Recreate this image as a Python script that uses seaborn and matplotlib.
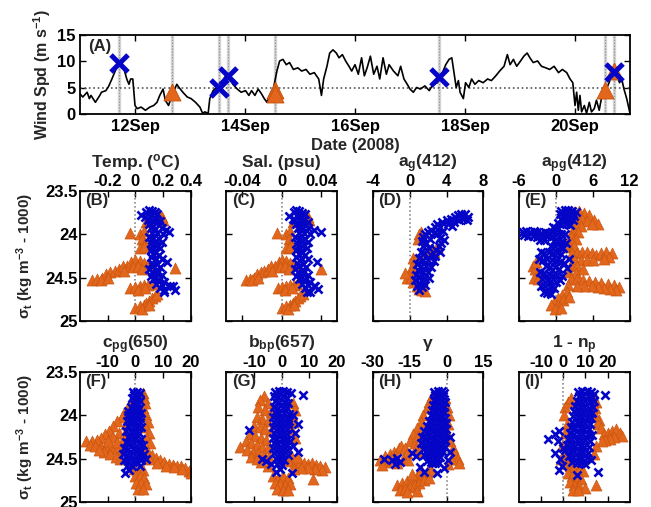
import matplotlib
matplotlib.use("Agg")
import matplotlib.pyplot as plt
import seaborn as sns

# ---------------------------------------------------------------- wind record
wind_day = [11.00, 11.05, 11.13, 11.17, 11.20, 11.28, 11.36, 11.39, 11.47, 11.52,
            11.58, 11.64, 11.70, 11.75, 11.81, 11.85, 11.89, 11.92, 11.96, 12.00,
            12.04, 12.11, 12.19, 12.27, 12.34, 12.40, 12.45, 12.51, 12.55, 12.61,
            12.66, 12.71, 12.76, 12.80, 12.87, 12.95, 13.02, 13.10, 13.18, 13.23,
            13.27, 13.33, 13.36, 13.42, 13.48, 13.53, 13.59, 13.67, 13.72, 13.78,
            13.86, 13.93, 14.01, 14.07, 14.12, 14.18, 14.24, 14.30, 14.35, 14.40,
            14.46, 14.52, 14.58, 14.63, 14.69, 14.75, 14.81, 14.88, 14.96, 15.03,
            15.11, 15.18, 15.26, 15.34, 15.39, 15.43, 15.49, 15.54, 15.60, 15.66,
            15.71, 15.77, 15.83, 15.89, 15.94, 16.00, 16.06, 16.12, 16.17, 16.22,
            16.28, 16.34, 16.40, 16.45, 16.51, 16.57, 16.62, 16.70, 16.78, 16.83,
            16.89, 16.95, 17.00, 17.06, 17.12, 17.19, 17.27, 17.35, 17.42, 17.50,
            17.53, 17.59, 17.65, 17.71, 17.76, 17.80, 17.84, 17.88, 17.91, 17.97,
            18.01, 18.07, 18.12, 18.18, 18.25, 18.33, 18.41, 18.48, 18.56, 18.63,
            18.71, 18.77, 18.82, 18.88, 18.94, 19.01, 19.07, 19.13, 19.18, 19.24,
            19.32, 19.39, 19.47, 19.54, 19.62, 19.70, 19.77, 19.85, 19.91, 19.96,
            20.00, 20.03, 20.06, 20.09, 20.12, 20.17, 20.21, 20.26, 20.30, 20.35,
            20.39, 20.44, 20.48, 20.53, 20.57, 20.62, 20.67, 20.72, 20.76, 20.81,
            20.85, 20.89, 20.94, 20.98, 21.00]
wind_speed = [3.9, 3.3, 4.2, 3.0, 3.6, 2.3, 3.6, 4.2, 4.5, 5.3,
              6.7, 8.2, 9.8, 9.1, 8.2, 6.7, 5.7, 6.7, 6.7, 1.7,
              1.1, 1.4, 0.8, 1.4, 1.7, 2.3, 3.6, 4.8, 2.7, 1.7,
              3.3, 4.5, 5.7, 5.1, 4.2, 3.3, 3.0, 2.3, 1.4, 0.2,
              0.5, 0.2, 3.0, 4.5, 5.1, 4.8, 6.4, 7.6, 6.7, 5.7,
              4.8, 4.2, 4.5, 3.6, 4.5, 3.6, 4.8, 3.9, 3.0, 2.3,
              3.9, 5.1, 8.2, 10.1, 10.4, 9.4, 9.8, 8.5, 8.8, 8.2,
              8.5, 7.6, 7.9, 6.7, 3.6, 6.7, 9.1, 11.6, 12.2, 11.6,
              10.7, 11.3, 10.1, 9.1, 8.2, 9.4, 7.6, 10.7, 7.3, 8.8,
              11.0, 7.6, 9.1, 6.7, 10.7, 7.6, 9.4, 8.2, 7.3, 9.1,
              6.7, 5.7, 4.8, 4.2, 5.1, 4.8, 5.4, 4.5, 5.7, 6.0,
              7.0, 7.9, 9.4, 10.4, 10.7, 7.9, 5.1, 6.4, 4.2, 3.0,
              6.0, 5.1, 6.7, 5.7, 6.4, 6.0, 6.7, 6.4, 7.3, 8.2,
              9.1, 11.3, 9.4, 10.4, 9.1, 10.1, 11.0, 11.6, 10.7, 9.8,
              10.1, 9.1, 8.8, 8.5, 9.1, 7.9, 8.5, 7.9, 6.7, 6.0,
              1.7, 4.2, 0.8, 3.6, 0.5, 1.7, 0.2, 2.3, 0.5, 1.1,
              2.7, 0.8, 3.0, 4.2, 4.8, 6.0, 7.6, 8.5, 7.3, 6.0,
              6.7, 4.8, 3.0, 1.1, 0.2]

event_days = [11.70, 12.68, 13.53, 13.69, 14.54, 17.52, 20.55, 20.70]
high_wind_day = [11.70, 13.53, 13.69, 17.52, 20.70]
high_wind_spd = [9.7, 5.0, 7.2, 7.0, 8.0]
low_wind_day = [12.68, 14.54, 14.54, 20.55, 20.70]
low_wind_spd = [4.3, 4.6, 3.9, 4.7, 8.2]

date_ticks = [12, 14, 16, 18, 20]
date_labels = ["12Sep", "14Sep", "16Sep", "18Sep", "20Sep"]

# ------------------------------------------------ profile anomalies vs sigma_t
# each entry: (anomaly, sigma_t); "low" = calm-wind profiles, "high" = windy ones
temp_high = [(0.04, 23.78), (0.08, 23.74), (0.10, 23.72), (0.12, 23.73), (0.14, 23.74), (0.16, 23.76),
             (0.11, 23.78), (0.07, 23.80), (0.09, 23.83), (0.12, 23.84), (0.15, 23.82), (0.18, 23.85),
             (0.10, 23.88), (0.13, 23.90), (0.17, 23.89), (0.11, 23.93), (0.14, 23.94), (0.19, 23.93),
             (0.22, 23.95), (0.24, 23.97), (0.12, 23.98), (0.16, 23.99), (0.20, 24.00), (0.10, 24.03),
             (0.13, 24.04), (0.17, 24.05), (0.15, 24.08), (0.11, 24.10), (0.19, 24.09), (0.12, 24.13),
             (0.15, 24.14), (0.18, 24.16), (0.11, 24.18), (0.14, 24.20), (0.13, 24.23), (0.17, 24.24),
             (0.11, 24.26), (0.15, 24.28), (0.19, 24.29), (0.23, 24.32), (0.12, 24.33), (0.16, 24.34),
             (0.13, 24.37), (0.18, 24.38), (0.10, 24.40), (0.15, 24.41), (0.12, 24.44), (0.16, 24.45),
             (0.19, 24.47), (0.11, 24.48), (0.14, 24.50), (0.13, 24.52), (0.17, 24.53), (0.21, 24.55),
             (0.15, 24.57), (0.19, 24.58), (0.25, 24.60), (0.21, 24.64), (0.29, 24.64), (0.27, 24.60),
             (0.18, 24.62), (0.21, 24.67)]
temp_low = [(0.17, 23.76), (0.19, 23.80), (0.20, 23.84), (0.08, 23.86), (-0.04, 23.99), (0.03, 24.00),
            (0.06, 23.96), (0.05, 24.05), (0.07, 24.10), (0.03, 24.16), (0.06, 24.15),
            (-0.31, 24.53), (-0.28, 24.51), (-0.24, 24.50), (-0.21, 24.46), (-0.18, 24.43), (-0.15, 24.42),
            (-0.12, 24.40), (-0.09, 24.37), (-0.06, 24.36), (-0.03, 24.32), (0.00, 24.30), (0.03, 24.31),
            (0.06, 24.33), (0.09, 24.34), (-0.08, 24.42), (-0.02, 24.38), (0.02, 24.36), (0.05, 24.40),
            (-0.25, 24.53), (-0.20, 24.50), (0.29, 24.39),
            (-0.04, 24.62), (0.00, 24.61), (0.03, 24.60), (0.06, 24.59), (0.09, 24.58), (0.12, 24.57),
            (0.02, 24.64), (0.07, 24.62), (0.00, 24.85), (0.03, 24.83), (0.06, 24.81), (0.08, 24.79),
            (0.10, 24.77), (0.12, 24.74), (0.14, 24.71), (0.16, 24.69), (0.05, 24.86), (0.10, 24.82)]

sal_high = [(0.007, 23.79), (0.012, 23.74), (0.015, 23.72), (0.018, 23.73), (0.021, 23.75), (0.024, 23.77),
            (0.016, 23.79), (0.011, 23.82), (0.014, 23.84), (0.019, 23.85), (0.023, 23.83), (0.027, 23.86),
            (0.015, 23.88), (0.020, 23.90), (0.025, 23.89), (0.017, 23.93), (0.021, 23.94), (0.027, 23.93),
            (0.033, 23.95), (0.040, 23.97), (0.018, 23.98), (0.023, 23.99), (0.029, 24.00), (0.014, 24.03),
            (0.019, 24.04), (0.024, 24.05), (0.021, 24.08), (0.016, 24.10), (0.027, 24.09), (0.017, 24.13),
            (0.021, 24.14), (0.026, 24.16), (0.015, 24.18), (0.020, 24.20), (0.018, 24.23), (0.024, 24.24),
            (0.015, 24.26), (0.021, 24.28), (0.027, 24.29), (0.036, 24.32), (0.016, 24.33), (0.022, 24.34),
            (0.018, 24.37), (0.025, 24.38), (0.014, 24.40), (0.021, 24.41), (0.017, 24.44), (0.022, 24.45),
            (0.027, 24.47), (0.015, 24.48), (0.020, 24.50), (0.018, 24.52), (0.024, 24.53), (0.029, 24.55),
            (0.021, 24.57), (0.027, 24.58), (0.033, 24.60), (0.026, 24.66), (0.037, 24.63), (0.034, 24.60),
            (0.024, 24.62), (0.029, 24.67)]
sal_low = [(0.024, 23.76), (0.027, 23.80), (0.028, 23.84), (0.011, 23.86), (-0.005, 23.99), (0.004, 24.00),
           (0.008, 23.96), (0.007, 24.05), (0.009, 24.10), (0.004, 24.16), (0.008, 24.15),
           (-0.036, 24.53), (-0.032, 24.51), (-0.028, 24.50), (-0.025, 24.46), (-0.021, 24.43), (-0.018, 24.42),
           (-0.014, 24.40), (-0.011, 24.37), (-0.007, 24.36), (-0.003, 24.32), (0.000, 24.30), (0.004, 24.31),
           (0.008, 24.33), (0.012, 24.34), (-0.010, 24.42), (-0.002, 24.38), (0.003, 24.36), (0.007, 24.40),
           (-0.030, 24.53), (-0.024, 24.50), (0.040, 24.40),
           (-0.004, 24.62), (0.000, 24.61), (0.004, 24.60), (0.008, 24.59), (0.012, 24.58), (0.016, 24.57),
           (0.003, 24.64), (0.010, 24.62), (0.000, 24.85), (0.004, 24.83), (0.008, 24.81), (0.011, 24.79),
           (0.014, 24.77), (0.017, 24.74), (0.019, 24.71), (0.022, 24.69), (0.006, 24.86), (0.013, 24.82)]

ag_high = [(5.2, 23.78), (5.6, 23.76), (6.0, 23.77), (6.3, 23.80), (5.8, 23.82), (6.2, 23.84), (5.4, 23.83),
           (4.9, 23.80), (4.5, 23.82), (4.0, 23.84), (3.5, 23.86), (4.2, 23.88), (4.8, 23.86), (3.0, 23.88),
           (3.3, 23.92), (2.7, 23.92), (4.6, 23.90), (2.3, 23.95), (2.0, 23.97), (1.7, 24.00), (2.6, 23.98),
           (3.0, 24.00), (3.6, 23.96), (1.4, 24.03), (2.2, 24.05), (3.3, 24.04), (3.7, 24.07), (1.3, 24.08),
           (1.8, 24.10), (3.4, 24.10), (3.2, 24.14), (1.5, 24.14), (2.1, 24.16), (2.9, 24.18), (3.3, 24.20),
           (1.2, 24.20), (1.6, 24.22), (2.3, 24.24), (2.8, 24.25), (1.0, 24.27), (1.5, 24.30), (2.0, 24.30),
           (2.6, 24.31), (0.8, 24.34), (1.2, 24.36), (1.8, 24.36), (2.3, 24.38), (0.9, 24.41), (1.4, 24.43),
           (2.0, 24.44), (0.7, 24.47), (1.1, 24.49), (1.6, 24.50), (2.1, 24.50), (0.6, 24.53), (1.0, 24.56),
           (1.5, 24.55), (0.8, 24.60), (1.3, 24.61), (1.7, 24.58), (1.0, 24.64)]
ag_low = [(1.2, 23.97), (1.0, 24.00), (0.9, 24.05), (2.3, 24.17), (2.6, 24.20), (2.0, 24.20), (3.0, 24.15),
          (0.4, 24.27), (0.6, 24.30), (0.3, 24.38), (0.1, 24.44), (-0.1, 24.48), (-0.3, 24.50), (0.2, 24.50),
          (0.4, 24.55), (1.0, 24.63), (1.3, 24.64), (1.7, 24.65), (0.8, 24.60), (-0.5, 24.45)]

apg_high = [(0.8, 23.73), (1.4, 23.72), (2.0, 23.72), (2.6, 23.73), (3.2, 23.74), (0.6, 23.77), (1.2, 23.78),
            (1.8, 23.77), (2.4, 23.78), (3.0, 23.79), (0.9, 23.82), (1.5, 23.83), (2.2, 23.82), (2.8, 23.84),
            (0.4, 23.87), (1.0, 23.88), (1.7, 23.88), (2.3, 23.89),
            (-5.4, 23.97), (-4.8, 23.96), (-4.2, 23.97), (-3.6, 23.96), (-3.0, 23.97), (-2.4, 23.98),
            (-1.8, 23.97), (-1.2, 23.98), (-0.6, 23.97), (-5.2, 24.01), (-4.5, 24.02), (-3.8, 24.02),
            (-3.0, 24.03), (-2.2, 24.03), (-1.5, 24.02), (-0.8, 24.03), (-0.2, 23.93), (0.3, 23.93),
            (-0.5, 23.92), (-2.6, 24.06), (-1.9, 24.07),
            (0.2, 24.00), (0.8, 24.00), (1.4, 24.00), (-0.3, 24.08), (0.4, 24.08), (1.0, 24.09), (1.6, 24.10),
            (-0.8, 24.13), (-0.1, 24.14), (0.6, 24.15), (1.2, 24.16), (-2.5, 24.20), (-1.9, 24.21),
            (-1.2, 24.20), (-0.5, 24.21), (0.2, 24.22), (0.8, 24.23), (2.2, 24.28), (-2.8, 24.28),
            (-2.1, 24.30), (-1.4, 24.29), (-0.7, 24.30), (0.0, 24.31), (0.7, 24.32), (1.3, 24.33),
            (-1.6, 24.37), (-0.9, 24.38), (-0.2, 24.38), (0.5, 24.40), (1.8, 24.39), (-2.6, 24.44),
            (-1.9, 24.45), (-1.2, 24.46), (-0.5, 24.47), (0.2, 24.47), (1.0, 24.48), (-2.2, 24.52),
            (-1.5, 24.53), (-0.8, 24.54), (0.0, 24.55), (0.6, 24.53), (-2.4, 24.60), (-1.7, 24.60),
            (-1.0, 24.61), (-0.3, 24.62), (-2.0, 24.66), (-1.4, 24.68), (-0.8, 24.69)]
apg_low = [(3.0, 23.74), (3.8, 23.73), (4.6, 23.75), (5.4, 23.78), (6.2, 23.83), (6.8, 23.88), (3.4, 23.80),
           (4.2, 23.82), (5.0, 23.85), (5.8, 23.88), (3.2, 23.88), (4.0, 23.90), (2.8, 23.95), (3.6, 23.97),
           (2.4, 24.02), (3.2, 24.05), (2.6, 24.10), (2.2, 24.15), (3.0, 24.14),
           (2.6, 24.22), (3.4, 24.21), (4.2, 24.20), (5.0, 24.20), (5.8, 24.22), (6.6, 24.24), (7.4, 24.22),
           (8.2, 24.20), (9.2, 24.22), (8.6, 24.26), (7.8, 24.28), (3.0, 24.28), (4.0, 24.30), (5.0, 24.30),
           (6.0, 24.30), (2.4, 24.35), (3.4, 24.37), (4.4, 24.40), (2.2, 24.43), (3.2, 24.45),
           (2.4, 24.52), (3.4, 24.52), (4.4, 24.53), (5.4, 24.54), (6.4, 24.55), (7.4, 24.56), (8.4, 24.57),
           (9.4, 24.58), (10.3, 24.61), (9.8, 24.64), (8.8, 24.63), (7.8, 24.62), (6.8, 24.61), (5.8, 24.60),
           (4.6, 24.60), (3.4, 24.60), (2.0, 24.58),
           (1.8, 24.66), (1.0, 24.70), (0.3, 24.74), (-0.3, 24.78), (-0.8, 24.82), (0.4, 24.82), (1.2, 24.76),
           (2.2, 24.72), (-0.2, 24.86), (0.8, 24.85),
           (-3.8, 24.36), (-3.4, 24.40), (-2.8, 24.45), (-3.6, 24.50), (-2.9, 24.52), (-3.2, 24.32)]

cpg_high = [(-1.0, 23.73), (0.5, 23.73), (1.5, 23.74), (-0.5, 23.77), (1.0, 23.78), (-1.2, 23.80), (0.3, 23.82),
            (1.6, 23.83), (-0.8, 23.86), (0.8, 23.87), (-1.5, 23.90), (0.0, 23.91), (1.4, 23.92),
            (-2.5, 23.95), (-1.0, 23.96), (0.6, 23.96), (2.0, 23.97), (-2.8, 24.00), (-1.3, 24.01), (0.3, 24.02),
            (1.8, 24.03), (-3.0, 24.06), (-1.6, 24.07), (0.0, 24.08), (1.5, 24.08), (-2.6, 24.12), (-1.0, 24.13),
            (0.6, 24.13), (2.2, 24.14), (-3.2, 24.18), (-1.7, 24.19), (-0.2, 24.19), (1.4, 24.20),
            (-2.8, 24.25), (-1.2, 24.25), (0.4, 24.26), (2.0, 24.27), (-3.5, 24.31), (-2.0, 24.32),
            (-0.4, 24.32), (1.2, 24.33), (2.6, 24.34), (-4.0, 24.38), (-2.5, 24.39), (-1.0, 24.39), (0.6, 24.40),
            (2.2, 24.41), (-4.5, 24.45), (-3.0, 24.46), (-1.4, 24.46), (0.2, 24.47), (1.8, 24.47), (3.2, 24.45),
            (-4.2, 24.52), (-2.6, 24.53), (-1.0, 24.54), (0.6, 24.54), (2.2, 24.52), (-3.0, 24.58),
            (-1.2, 24.59), (1.8, 24.59), (-3.6, 24.66), (-2.4, 24.63), (3.8, 24.50)]
cpg_low = [(-1.2, 23.86), (-2.5, 23.90), (-4.0, 23.97), (-5.0, 24.02), (-6.5, 24.07), (-8.0, 24.12),
           (-9.5, 24.18), (-11.0, 24.22), (-12.5, 24.26), (-14.0, 24.28), (-15.5, 24.30), (-17.9, 24.30),
           (-16.5, 24.34), (-14.5, 24.35), (-12.5, 24.36), (-10.5, 24.37), (-8.5, 24.38), (-6.5, 24.39),
           (-5.0, 24.40), (-3.5, 24.10), (-6.0, 24.20), (-8.0, 24.25), (-10.0, 24.30), (-4.5, 24.28),
           (-6.5, 24.31), (-3.8, 24.20), (-11.5, 24.42), (-9.0, 24.45), (-7.0, 24.48), (-5.5, 24.50),
           (-13.0, 24.40),
           (2.6, 23.74), (3.2, 23.80), (3.6, 23.86), (2.8, 23.92), (3.8, 24.00), (4.4, 24.08), (3.4, 24.14),
           (4.8, 24.20), (3.8, 24.26), (5.2, 24.32),
           (3.0, 24.38), (4.5, 24.42), (6.0, 24.46), (7.5, 24.49), (9.0, 24.52), (10.5, 24.54), (12.0, 24.56),
           (13.5, 24.57), (15.0, 24.58), (16.5, 24.59), (18.0, 24.61), (19.5, 24.64), (20.2, 24.66),
           (5.0, 24.50), (8.0, 24.55), (11.0, 24.58), (14.0, 24.60), (17.0, 24.62),
           (-0.6, 24.62), (1.0, 24.64), (2.6, 24.63), (-0.2, 24.70), (1.5, 24.70), (3.0, 24.72), (0.2, 24.78),
           (2.0, 24.78), (3.8, 24.79), (0.8, 24.85), (2.6, 24.85)]

bbp_high = [(-2.5, 23.73), (-1.0, 23.72), (0.5, 23.72), (2.0, 23.73), (3.2, 23.74), (-2.8, 23.78), (-1.2, 23.79),
            (0.4, 23.78), (2.0, 23.80), (-2.5, 23.84), (-0.8, 23.85), (0.8, 23.85), (2.4, 23.86), (-2.8, 23.90),
            (-1.2, 23.91), (0.4, 23.91), (2.0, 23.92), (-2.5, 23.96), (-0.9, 23.97), (0.7, 23.97), (2.6, 23.98),
            (-3.0, 24.02), (-1.4, 24.03), (0.2, 24.03), (1.8, 24.04), (-2.6, 24.08), (-1.0, 24.09), (0.6, 24.09),
            (2.2, 24.10), (-3.0, 24.14), (-1.4, 24.15), (0.2, 24.15), (1.8, 24.16), (-2.7, 24.20), (-1.1, 24.21),
            (0.5, 24.21), (2.1, 24.22), (-3.2, 24.26), (-1.5, 24.27), (0.1, 24.27), (1.7, 24.28), (-2.8, 24.32),
            (-1.2, 24.33), (0.4, 24.33), (2.0, 24.34), (-3.0, 24.38), (-1.4, 24.39), (0.2, 24.39), (1.8, 24.40),
            (-2.6, 24.44), (-1.0, 24.45), (0.6, 24.45), (2.2, 24.46), (-2.2, 24.50), (-0.6, 24.51), (1.0, 24.51),
            (-1.5, 24.56), (0.2, 24.57), (-0.5, 24.62),
            (7.7, 23.77), (-11.9, 24.17), (4.0, 24.00), (5.8, 24.10), (4.8, 24.20), (6.0, 24.42), (3.6, 24.67),
            (-7.0, 24.50), (-5.5, 24.53), (-4.0, 24.56), (-2.0, 24.65), (3.0, 24.30), (4.2, 24.35), (2.8, 24.07)]
bbp_low = [(-6.5, 23.78), (-7.8, 23.82), (-5.0, 23.86), (-8.5, 23.90), (-6.0, 23.94), (-4.0, 23.96),
           (-9.0, 24.02), (-7.0, 24.04), (-5.0, 24.06), (-10.0, 24.12), (-8.0, 24.14), (-6.0, 24.16),
           (-4.0, 24.18), (-11.5, 24.22), (-9.5, 24.24), (-7.5, 24.26), (-5.5, 24.28), (-13.0, 24.30),
           (-11.0, 24.32), (-9.0, 24.34), (-7.0, 24.36), (-5.0, 24.38), (-14.9, 24.36), (-12.5, 24.40),
           (-10.5, 24.42), (-8.5, 24.44), (-6.5, 24.46), (-4.5, 24.48), (-11.0, 24.48), (-9.0, 24.50),
           (-7.5, 24.54), (-5.0, 24.58),
           (4.0, 23.86), (4.8, 23.94), (3.6, 24.00), (4.2, 24.08), (3.2, 24.16), (5.0, 24.26),
           (1.8, 24.52), (3.5, 24.53), (5.0, 24.55), (6.5, 24.54), (8.0, 24.55), (9.5, 24.56), (11.0, 24.55),
           (12.5, 24.57), (14.0, 24.58), (15.5, 24.60), (14.5, 24.63), (12.0, 24.62), (9.5, 24.61),
           (7.0, 24.61), (4.5, 24.62), (11.3, 24.73), (3.5, 24.46), (5.5, 24.48),
           (-3.0, 24.70), (-1.2, 24.72), (0.6, 24.70), (2.4, 24.72), (-2.4, 24.78), (-0.6, 24.79), (1.2, 24.80),
           (3.0, 24.79), (-1.5, 24.85), (0.4, 24.86), (2.2, 24.86)]

gamma_high = [(-5.0, 23.73), (-3.5, 23.72), (-2.0, 23.72), (-1.0, 23.74), (-4.6, 23.77), (-3.0, 23.78),
              (-1.5, 23.78), (-5.2, 23.82), (-3.6, 23.83), (-2.0, 23.83), (-0.8, 23.85), (-5.5, 23.88),
              (-4.0, 23.89), (-2.4, 23.89), (-1.0, 23.90), (-6.0, 23.94), (-4.4, 23.95), (-2.8, 23.95),
              (-1.2, 23.96), (-6.5, 24.00), (-5.0, 24.01), (-3.4, 24.01), (-1.8, 24.02), (-0.5, 24.03),
              (-7.0, 24.06), (-5.4, 24.07), (-3.8, 24.07), (-2.2, 24.08), (-0.8, 24.09), (-8.0, 24.12),
              (-6.4, 24.13), (-4.8, 24.13), (-3.2, 24.14), (-1.6, 24.15), (-0.2, 24.16), (-9.0, 24.18),
              (-7.4, 24.19), (-5.8, 24.19), (-4.2, 24.20), (-2.6, 24.21), (-1.0, 24.22), (-10.0, 24.25),
              (-8.4, 24.26), (-6.8, 24.26), (-5.2, 24.27), (-3.6, 24.28), (-2.0, 24.28), (-0.5, 24.29),
              (-10.5, 24.32), (-8.8, 24.33), (-7.2, 24.33), (-5.6, 24.34), (-4.0, 24.35), (-2.4, 24.35),
              (-0.8, 24.36), (-9.5, 24.39), (-7.8, 24.40), (-6.2, 24.40), (-4.6, 24.41), (-3.0, 24.42),
              (-1.4, 24.42), (-9.0, 24.46), (-7.4, 24.47), (-5.8, 24.47), (-4.2, 24.48), (-2.6, 24.48),
              (-8.0, 24.53), (-6.4, 24.54), (-4.8, 24.55), (-3.2, 24.55),
              (-25.5, 24.50), (-22.0, 24.52), (-20.0, 24.49), (-18.8, 24.54), (-21.0, 24.56), (-14.0, 24.44),
              (-12.5, 24.47), (-10.6, 24.60), (-9.2, 24.65), (-5.8, 24.55), (-3.8, 24.67), (-1.0, 24.61),
              (1.6, 24.25), (1.6, 24.42), (-0.4, 24.09), (-3.1, 24.38), (0.5, 24.52)]
gamma_low = [(-6.0, 23.78), (-7.0, 23.85), (-0.5, 23.80), (0.2, 23.90),
             (-8.0, 23.92), (-9.5, 24.00), (-10.5, 24.08), (-12.0, 24.15), (-13.5, 24.22), (-14.7, 24.30),
             (-13.0, 24.32), (-11.5, 24.24), (-12.5, 24.38), (-11.0, 24.42),
             (-27.0, 24.52), (-25.0, 24.47), (-23.0, 24.45), (-21.5, 24.42), (-19.5, 24.38), (-18.5, 24.35),
             (-17.0, 24.38), (-16.0, 24.44), (-24.0, 24.54), (-20.0, 24.55), (-17.5, 24.50), (-15.5, 24.52),
             (-22.0, 24.50), (-26.2, 24.57),
             (-20.0, 24.80), (-18.0, 24.78), (-16.0, 24.76), (-14.0, 24.74), (-12.0, 24.70), (-10.0, 24.68),
             (-8.0, 24.65), (-6.5, 24.63), (-19.0, 24.86), (-17.0, 24.85), (-15.0, 24.83), (-13.0, 24.80),
             (-11.0, 24.78), (-9.0, 24.75), (-7.0, 24.72), (-16.0, 24.88), (-12.0, 24.87), (-14.0, 24.68),
             (-10.5, 24.63),
             (0.3, 24.20), (1.5, 24.30), (2.5, 24.38), (3.5, 24.45), (4.5, 24.50), (2.0, 24.50), (0.8, 24.56),
             (5.0, 24.55), (1.2, 24.00), (0.6, 24.10)]

np_high = [(6.5, 23.73), (8.5, 23.72), (10.5, 23.72), (12.5, 23.73), (14.0, 23.75), (7.0, 23.78), (9.0, 23.78),
           (11.0, 23.78), (13.0, 23.79), (6.0, 23.83), (8.0, 23.84), (10.0, 23.84), (12.0, 23.85), (14.0, 23.84),
           (5.5, 23.89), (7.5, 23.90), (9.5, 23.90), (11.5, 23.91), (13.5, 23.90), (5.0, 23.95), (7.0, 23.96),
           (9.0, 23.96), (11.0, 23.97), (13.0, 23.97), (4.5, 24.01), (6.5, 24.02), (8.5, 24.02), (10.5, 24.03),
           (12.5, 24.03), (4.0, 24.08), (6.0, 24.08), (8.0, 24.09), (10.0, 24.09), (12.0, 24.10), (3.5, 24.14),
           (5.5, 24.15), (7.5, 24.15), (9.5, 24.16), (11.5, 24.16), (3.0, 24.20), (5.0, 24.21), (7.0, 24.21),
           (9.0, 24.22), (11.0, 24.22), (13.0, 24.23), (2.0, 24.27), (4.0, 24.27), (6.0, 24.28), (8.0, 24.28),
           (10.0, 24.29), (12.0, 24.30), (1.5, 24.34), (3.5, 24.34), (5.5, 24.35), (7.5, 24.35), (9.5, 24.36),
           (11.5, 24.36), (1.0, 24.40), (3.0, 24.41), (5.0, 24.41), (7.0, 24.42), (9.0, 24.42), (11.0, 24.43),
           (2.5, 24.47), (4.5, 24.48), (6.5, 24.48), (8.5, 24.49), (10.5, 24.49), (4.0, 24.54), (6.0, 24.55),
           (8.0, 24.55), (10.0, 24.56), (12.5, 24.52),
           (18.9, 23.77), (-6.7, 24.27), (-3.6, 24.22), (-2.0, 24.18), (-2.5, 24.30), (-3.6, 24.44),
           (-1.5, 24.50), (-0.5, 24.59), (6.2, 24.69), (15.8, 24.65), (-2.0, 24.63), (0.0, 24.38)]
np_low = [(1.0, 23.90), (2.0, 23.85), (3.5, 23.80), (0.5, 24.00), (1.5, 24.10), (0.8, 24.20), (2.5, 24.25),
          (-0.5, 24.35), (0.5, 24.45), (-1.0, 24.50), (1.5, 24.52), (13.5, 23.78), (15.0, 23.85), (14.5, 23.92),
          (16.0, 24.05), (15.5, 24.10), (17.0, 24.15), (18.5, 24.22), (20.0, 24.20), (22.0, 24.18),
          (24.0, 24.16), (25.5, 24.20), (26.7, 24.24), (23.0, 24.25), (21.0, 24.27), (19.0, 24.28),
          (17.5, 24.30), (14.3, 24.00), (15.0, 24.35), (14.0, 24.45),
          (1.0, 24.55), (3.0, 24.58), (5.0, 24.60), (7.0, 24.62), (9.0, 24.64), (2.0, 24.66), (4.0, 24.70),
          (6.0, 24.72), (8.0, 24.74), (3.0, 24.77), (5.0, 24.80), (7.0, 24.82), (9.6, 24.84), (4.5, 24.86),
          (6.5, 24.86), (15.0, 24.80)]

sigma_ticks = [23.5, 24, 24.5, 25]
sigma_labels = ["23.5", "24", "24.5", "25"]

panels = [
    ("(B)", r"Temp. ($\mathregular{^o}$C)", (-0.4, 0.4), [-0.2, 0, 0.2, 0.4], ["-0.2", "0", "0.2", "0.4"], temp_low, temp_high),
    ("(C)", "Sal. (psu)", (-0.056, 0.056), [-0.04, 0, 0.04], ["-0.04", "0", "0.04"], sal_low, sal_high),
    ("(D)", r"$a_{g}$(412)", (-4, 8), [-4, 0, 4, 8], ["-4", "0", "4", "8"], ag_low, ag_high),
    ("(E)", r"$a_{pg}$(412)", (-6, 12), [-6, 0, 6, 12], ["-6", "0", "6", "12"], apg_low, apg_high),
    ("(F)", r"$c_{pg}$(650)", (-20, 20), [-10, 0, 10, 20], ["-10", "0", "10", "20"], cpg_low, cpg_high),
    ("(G)", r"$b_{bp}$(657)", (-20, 20), [-10, 0, 10, 20], ["-10", "0", "10", "20"], bbp_low, bbp_high),
    ("(H)", r"$\gamma$", (-30, 15), [-30, -15, 0, 15], ["-30", "-15", "0", "15"], gamma_low, gamma_high),
    ("(I)", r"1 - $n_{p}$", (-20, 30), [-10, 0, 10, 20], ["-10", "0", "10", "20"], np_low, np_high),
]

# ---------------------------------------------------------------- styling
sns.set_style("white")
plt.rcParams.update({
    "font.family": ["Liberation Sans", "DejaVu Sans"],
    "font.weight": "bold",
    "axes.labelweight": "bold",
    "font.size": 12,
    "mathtext.fontset": "custom",
    "mathtext.rm": "Liberation Sans:bold",
    "mathtext.it": "Liberation Sans:bold",
    "mathtext.bf": "Liberation Sans:bold",
    "mathtext.sf": "Liberation Sans:bold",
    "mathtext.default": "rm",
    "axes.unicode_minus": False,
    "axes.edgecolor": "black",
    "axes.linewidth": 1.3,
})

ORANGE = "#E2661B"
ORANGE_EDGE = "#C4520E"
BLUE = "#0505C8"
TICK_FS = 12
TITLE_FS = 12.5

W, H = 651, 507
fig = plt.figure(figsize=(W / 100, H / 100), dpi=100)


def box(left, top, width, height):
    return fig.add_axes([left / W, 1 - (top + height) / H, width / W, height / H])


def style_ticks(ax):
    ax.tick_params(direction="in", length=4, width=1, colors="black",
                   top=True, bottom=True, left=True, right=True, labelsize=TICK_FS)


# ---- (A) wind speed
axw = box(80, 35, 550, 79.5)
for d in event_days:
    axw.axvline(d, color="#D4D4D4", lw=2.4, zorder=1)
    axw.axvline(d, color="#8A8A8A", lw=0.8, ls=":", zorder=1)
axw.axhline(5, color="#555555", lw=1.2, ls=":", zorder=1)
sns.lineplot(x=wind_day, y=wind_speed, color="black", lw=1.2, ax=axw,
             estimator=None, sort=False, zorder=2)
sns.scatterplot(x=low_wind_day, y=low_wind_spd, marker="^", s=150, color=ORANGE,
                edgecolor=ORANGE_EDGE, linewidth=0.6, ax=axw, zorder=3)
sns.scatterplot(x=high_wind_day, y=high_wind_spd, marker="x", s=150, color=BLUE,
                linewidth=3.6, ax=axw, zorder=4)
axw.set_xlim(11, 21)
axw.set_ylim(0, 15)
axw.set_xticks(date_ticks)
axw.set_xticklabels(date_labels)
axw.set_yticks([0, 5, 10, 15])
axw.set_yticklabels(["0", "5", "10", "15"])
style_ticks(axw)
axw.tick_params(labeltop=False, labelbottom=True, labelleft=True, pad=3)
axw.set_xlabel("Date (2008)", fontsize=12, labelpad=3)
axw.set_ylabel(r"Wind Spd (m s$^{-1}$)", fontsize=11.5, labelpad=3)
axw.text(0.015, 0.95, "(A)", transform=axw.transAxes, ha="left", va="top",
         fontsize=12, fontweight="bold")

# ---- (B)-(I) profile panels
lefts = [80, 226.3, 372.7, 519]
tops = [191, 372]
for i, (tag, title, xlim, xt, xtl, low, high) in enumerate(panels):
    r, c = divmod(i, 4)
    ax = box(lefts[c], tops[r], 110.7, 130)
    ax.axvline(0, color="#777777", lw=1.1, ls=":", zorder=1)
    sns.scatterplot(x=[p[0] for p in low], y=[p[1] for p in low], marker="^", s=64,
                    color=ORANGE, edgecolor=ORANGE_EDGE, linewidth=0.4, ax=ax, zorder=2)
    sns.scatterplot(x=[p[0] for p in high], y=[p[1] for p in high], marker="x", s=34,
                    color=BLUE, linewidth=1.9, ax=ax, zorder=3)
    ax.set_xlim(*xlim)
    ax.set_ylim(25, 23.5)
    ax.set_xticks(xt)
    ax.set_xticklabels(xtl)
    ax.set_yticks(sigma_ticks)
    style_ticks(ax)
    ax.tick_params(labeltop=True, labelbottom=False, pad=1.5)
    ax.xaxis.set_label_position("top")
    ax.set_xlabel(title, fontsize=TITLE_FS, labelpad=5)
    if c == 0:
        ax.set_yticklabels(sigma_labels)
        ax.set_ylabel(r"$\sigma_{t}$ (kg m$^{-3}$ - 1000)", fontsize=11, labelpad=7)
    else:
        ax.set_yticklabels([])
        ax.set_ylabel("")
    ax.text(0.05, 0.985, tag, transform=ax.transAxes, ha="left", va="top",
            fontsize=12, fontweight="bold")

fig.savefig("out.png", dpi=100)
